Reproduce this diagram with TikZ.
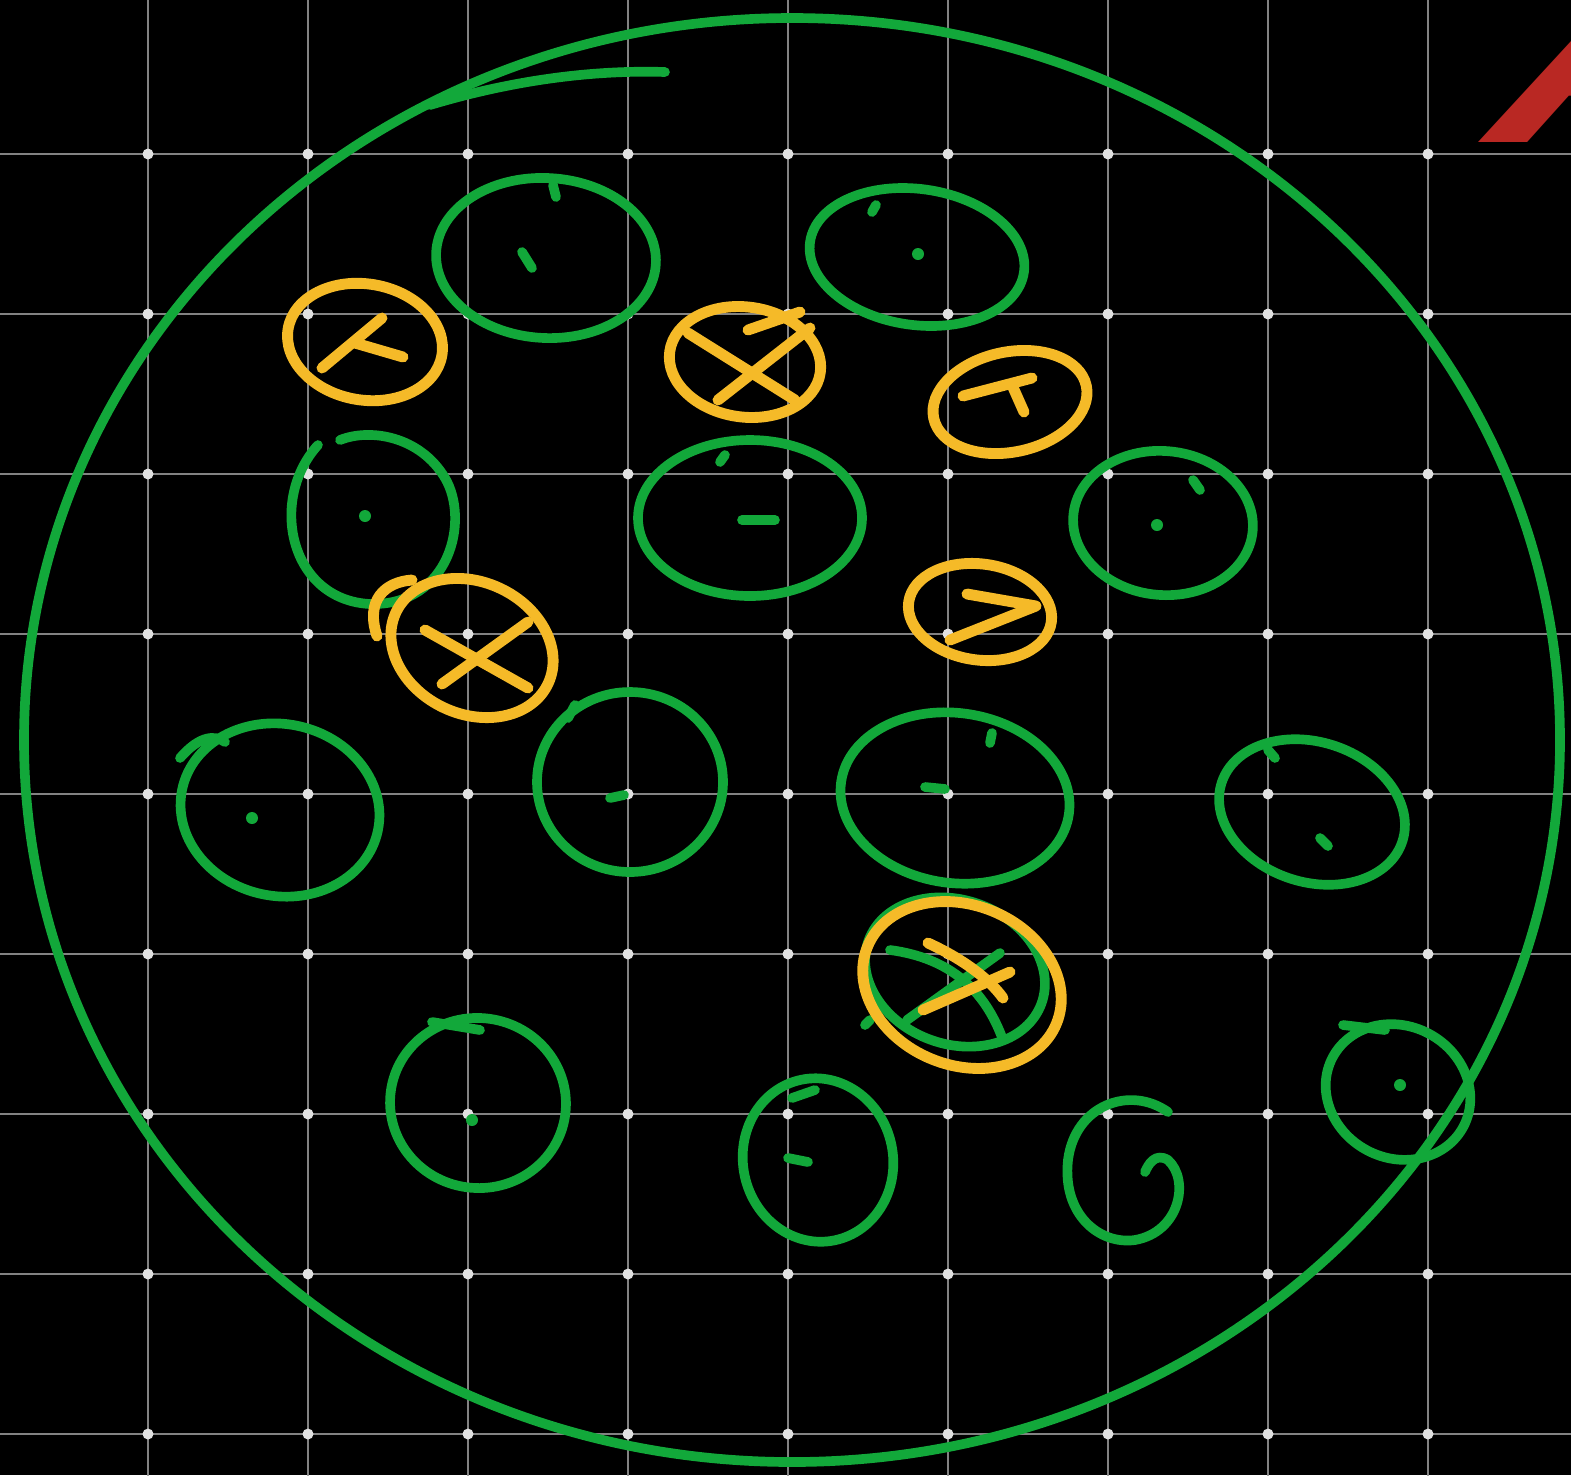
\documentclass[tikz,border=0pt]{standalone}
\usepackage{fontspec}
\newfontfamily\afont{Liberation Sans}
\definecolor{gr}{RGB}{18,168,58}
\definecolor{ye}{RGB}{245,186,40}
\definecolor{gl}{RGB}{130,130,130}
\definecolor{gd}{RGB}{225,225,225}
\definecolor{rd}{RGB}{185,40,35}
\begin{document}
\begin{tikzpicture}[x=0.02cm,y=-0.02cm, line cap=round, line join=round,
  grn/.style={draw=gr, line width=5.5pt},
  yel/.style={draw=ye, line width=6.2pt},
  gline/.style={draw=gl, line width=1.5pt},
  gdot/.style={fill=gd},
  gmark/.style={fill=gr}]
\fill[black] (0,0) rectangle (1571,1475);
\useasboundingbox (0,0) rectangle (1571,1475);
\clip (0,0) rectangle (1571,1475);
% grid
\foreach \x in {148,308,...,1428} \draw[gline] (\x,0) -- (\x,1475);
\foreach \y in {154,314,...,1434} \draw[gline] (0,\y) -- (1571,\y);
\foreach \x in {148,308,...,1428}
  \foreach \y in {154,314,...,1434} \fill[gdot] (\x,\y) circle (5.5);
% red letter (cut off at the right edge)
\node[anchor=base west, text=rd, inner sep=0pt, xscale=1.3, xslant=0.15, font=\afont\bfseries\itshape\fontsize{150}{150}\selectfont] (A) at (1485,142) {A};
% big circle
\draw[grn] (792,740) ellipse (768 and 722);
\draw[grn] (430,105) .. controls (520,78) and (600,70) .. (665,72);
% small green cells
\draw[grn] (546,258) circle [x radius=110, y radius=80, rotate=-3];
\draw[grn] (522,252) -- (532,268);
\draw[grn] (553,185) -- (556,197);
\draw[grn] (917,257) circle [x radius=108, y radius=68, rotate=-8];
\fill[gmark] (918,254) circle (6);
\draw[grn] (872,212) -- (876,205);
\draw[grn] (318,445) .. controls (268,500) and (290,600) .. (370,604) .. controls (450,606) and (470,520) .. (445,478) .. controls (420,436) and (370,428) .. (340,440);
\fill[gmark] (365,516) circle (6);
\draw[grn] (750,518) circle [x radius=112, y radius=78];
\draw[grn] (742,520) -- (775,520);
\draw[grn] (720,462) -- (725,455);
\draw[grn] (1163,523) circle [x radius=90, y radius=72, rotate=-5];
\fill[gmark] (1157,525) circle (6);
\draw[grn] (1193,480) -- (1200,490);
\draw[grn] (280,810) circle [x radius=100, y radius=86, rotate=-12];
\draw[grn] (180,758) .. controls (200,735) and (215,735) .. (225,742);
\fill[gmark] (252,818) circle (6);
\draw[grn] (630,782) circle [x radius=93, y radius=90];
\draw[grn] (610,798) -- (624,795);
\draw[grn] (568,718) -- (575,705);
\draw[grn] (955,798) circle [x radius=115, y radius=85, rotate=-8];
\draw[grn] (925,787) -- (945,789);
\draw[grn] (990,743) -- (992,733);
\draw[grn] (1312,812) circle [x radius=95, y radius=70, rotate=-18];
\draw[grn] (1320,838) -- (1328,846);
\draw[grn] (1275,758) -- (1268,750);
\draw[grn] (478,1103) circle [x radius=88, y radius=85, rotate=-8];
\fill[gmark] (472,1120) circle (6);
\draw[grn] (432,1022) -- (480,1030);
\draw[grn] (818,1160) circle [x radius=75, y radius=82, rotate=12];
\draw[grn] (788,1158) -- (808,1162);
\draw[grn] (792,1098) -- (815,1090);
\draw[grn] (1168,1112) .. controls (1130,1085) and (1075,1105) .. (1068,1160) .. controls (1062,1215) and (1100,1245) .. (1135,1240) .. controls (1180,1232) and (1190,1180) .. (1168,1160) .. controls (1155,1152) and (1148,1165) .. (1145,1172);
\draw[grn] (1398,1092) circle [x radius=74, y radius=66, rotate=-28];
\fill[gmark] (1400,1085) circle (6);
\draw[grn] (1343,1025) -- (1385,1030);
% green cell under the last yellow one
\draw[grn] (955,972) circle [x radius=92, y radius=72, rotate=-20];
\draw[grn] (890,950) .. controls (950,958) and (985,990) .. (1003,1040);
\draw[grn] (907,1020) -- (1000,953);
\draw[grn] (865,1025) -- (870,1020);
% yellow cells
\draw[yel] (365,342) circle [x radius=78, y radius=58, rotate=-10];
\draw[yel] (322,368) -- (382,318);
\draw[yel] (355,343) -- (403,357);
\draw[yel] (745,362) circle [x radius=76, y radius=55, rotate=-8];
\draw[yel] (688,333) -- (795,400);
\draw[yel] (810,328) -- (718,400);
\draw[yel] (748,330) -- (800,312);
\draw[yel] (1010,402) circle [x radius=78, y radius=50, rotate=12];
\draw[yel] (963,396) -- (1032,378);
\draw[yel] (1012,385) -- (1024,412);
\draw[yel] (472,648) circle [x radius=84, y radius=66, rotate=-25];
\draw[yel] (425,630) -- (528,688);
\draw[yel] (528,622) -- (442,684);
\draw[yel] (377,636) .. controls (365,600) and (385,582) .. (412,580);
\draw[yel] (980,612) circle [x radius=72, y radius=48, rotate=-8];
\draw[yel] (967,594) -- (1036,606) -- (950,640);
\draw[yel] (962,985) circle [x radius=102, y radius=80, rotate=-22];
\draw[yel] (928,943) .. controls (965,960) and (990,980) .. (1003,998);
\draw[yel] (923,1010) -- (1010,972);
\end{tikzpicture}
\end{document}
